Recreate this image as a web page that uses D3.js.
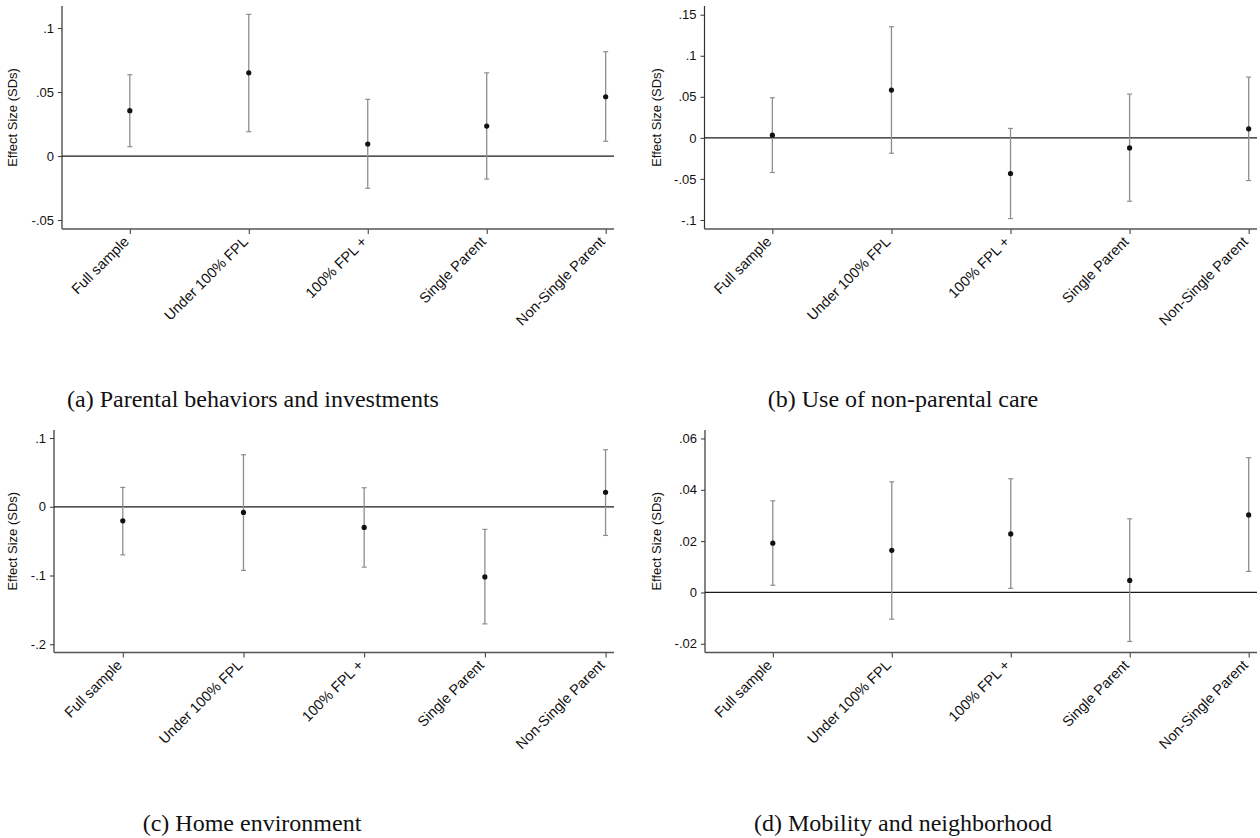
<!DOCTYPE html>
<html>
<head>
<meta charset="utf-8">
<script src="https://cdn.jsdelivr.net/npm/d3@7"></script>
<style>
  html, body { margin: 0; padding: 0; background: #fff; }
  svg { display: block; }
</style>
</head>
<body>
<svg id="chart" width="1260" height="838"></svg>
<script>
// ---------------- DATA ----------------
const categories = ["Full sample", "Under 100% FPL", "100% FPL +", "Single Parent", "Non-Single Parent"];

const panelA_est = [0.0354, 0.0650, 0.0094, 0.0234, 0.0463];
const panelA_lo  = [0.0073, 0.0190, -0.0252, -0.0180, 0.0115];
const panelA_hi  = [0.0635, 0.1107, 0.0443, 0.0650, 0.0815];

const panelB_est = [0.0033, 0.0582, -0.0434, -0.0122, 0.0110];
const panelB_lo  = [-0.0422, -0.0187, -0.0983, -0.0772, -0.0520];
const panelB_hi  = [0.0488, 0.1354, 0.0115, 0.0533, 0.0740];

const panelC_est = [-0.0204, -0.0082, -0.0300, -0.1020, 0.0210];
const panelC_lo  = [-0.0699, -0.0926, -0.0878, -0.1704, -0.0417];
const panelC_hi  = [0.0282, 0.0757, 0.0277, -0.0329, 0.0830];

const panelD_est = [0.0192, 0.0164, 0.0228, 0.0047, 0.0302];
const panelD_lo  = [0.0028, -0.0104, 0.0016, -0.0191, 0.0082];
const panelD_hi  = [0.0357, 0.0431, 0.0443, 0.0287, 0.0525];

const ticksA = [-0.05, 0, 0.05, 0.1];
const tickLabelsA = ["-.05", "0", ".05", ".1"];
const ticksB = [-0.1, -0.05, 0, 0.05, 0.1, 0.15];
const tickLabelsB = ["-.1", "-.05", "0", ".05", ".1", ".15"];
const ticksC = [-0.2, -0.1, 0, 0.1];
const tickLabelsC = ["-.2", "-.1", "0", ".1"];
const ticksD = [-0.02, 0, 0.02, 0.04, 0.06];
const tickLabelsD = ["-.02", "0", ".02", ".04", ".06"];

const captions = ["(a) Parental behaviors and investments", "(b) Use of non-parental care",
                  "(c) Home environment", "(d) Mobility and neighborhood"];
const yTitle = "Effect Size (SDs)";

// ---------------- LAYOUT ----------------
const panels = [
  { est: panelA_est, lo: panelA_lo, hi: panelA_hi, ticks: ticksA, labels: tickLabelsA,
    yDomain: [-0.057, 0.1172], left: 62, right: 614, top: 6, bottom: 229,
    titleX: 17, capX: 253, capY: 407, caption: captions[0] },
  { est: panelB_est, lo: panelB_lo, hi: panelB_hi, ticks: ticksB, labels: tickLabelsB,
    yDomain: [-0.111, 0.1606], left: 704.5, right: 1257, top: 6, bottom: 229,
    titleX: 660.5, capX: 903, capY: 407, caption: captions[1] },
  { est: panelC_est, lo: panelC_lo, hi: panelC_hi, ticks: ticksC, labels: tickLabelsC,
    yDomain: [-0.212, 0.1117], left: 54, right: 614, top: 430, bottom: 652.5,
    titleX: 17, capX: 252, capY: 831, caption: captions[2] },
  { est: panelD_est, lo: panelD_lo, hi: panelD_hi, ticks: ticksD, labels: tickLabelsD,
    yDomain: [-0.0234, 0.0633], left: 705, right: 1257, top: 430, bottom: 652.5,
    titleX: 660.5, capX: 903, capY: 831, caption: captions[3] }
];

const svg = d3.select("#chart");
const sans = "'Liberation Sans', Arial, sans-serif";
const serif = "'Liberation Serif', 'Times New Roman', serif";

panels.forEach(p => {
  const g = svg.append("g");
  const x = d3.scaleLinear().domain([0.43, 5.07]).range([p.left, p.right]);
  const y = d3.scaleLinear().domain(p.yDomain).range([p.bottom, p.top]);
  const tickFmt = d => p.labels[p.ticks.indexOf(d)];

  // y axis
  const yAxis = d3.axisLeft(y).tickValues(p.ticks).tickFormat(tickFmt).tickSize(4).tickPadding(4);
  const ya = g.append("g").attr("transform", `translate(${p.left},0)`).call(yAxis);
  ya.select(".domain").remove();
  ya.selectAll(".tick line").attr("stroke", "#333").attr("stroke-width", 1);
  ya.selectAll(".tick text").attr("font-family", sans).attr("font-size", 13).attr("fill", "#111");
  g.append("line").attr("x1", p.left).attr("x2", p.left).attr("y1", p.top).attr("y2", p.bottom)
    .attr("stroke", "#333").attr("stroke-width", 1.2);

  // x axis
  const xAxis = d3.axisBottom(x).tickValues([1, 2, 3, 4, 5]).tickFormat(d => categories[d - 1])
    .tickSize(5).tickPadding(0);
  const xa = g.append("g").attr("transform", `translate(0,${p.bottom})`).call(xAxis);
  xa.select(".domain").remove();
  xa.selectAll(".tick line").attr("stroke", "#333").attr("stroke-width", 1);
  xa.selectAll(".tick text")
    .attr("font-family", sans).attr("font-size", 14.5).attr("fill", "#111")
    .attr("text-anchor", "end")
    .attr("transform", "translate(-4,10) rotate(-45)")
    .attr("y", 0).attr("dy", "0.35em");
  g.append("line").attr("x1", p.left).attr("x2", p.right).attr("y1", p.bottom).attr("y2", p.bottom)
    .attr("stroke", "#555").attr("stroke-width", 1.6);

  // zero line
  g.append("line").attr("x1", p.left).attr("x2", p.right).attr("y1", y(0)).attr("y2", y(0))
    .attr("stroke", "#1a1a1a").attr("stroke-width", 1.3);

  // error bars
  const idx = d3.range(categories.length);
  g.selectAll(".ci").data(idx).enter().append("line")
    .attr("x1", i => x(i + 1)).attr("x2", i => x(i + 1))
    .attr("y1", i => y(p.lo[i])).attr("y2", i => y(p.hi[i]))
    .attr("stroke", "#8e8e8e").attr("stroke-width", 1.3);
  ["lo", "hi"].forEach(k => {
    g.selectAll(".cap" + k).data(idx).enter().append("line")
      .attr("x1", i => x(i + 1) - 2.5).attr("x2", i => x(i + 1) + 2.5)
      .attr("y1", i => y(p[k][i])).attr("y2", i => y(p[k][i]))
      .attr("stroke", "#8e8e8e").attr("stroke-width", 1.2);
  });
  // points
  g.selectAll(".pt").data(idx).enter().append("circle")
    .attr("cx", i => x(i + 1)).attr("cy", i => y(p.est[i])).attr("r", 2.6)
    .attr("fill", "#111");

  // y title
  g.append("text")
    .attr("transform", `translate(${p.titleX},${(p.top + p.bottom) / 2}) rotate(-90)`)
    .attr("text-anchor", "middle")
    .attr("font-family", sans).attr("font-size", 13).attr("fill", "#111")
    .text(yTitle);

  // caption
  svg.append("text")
    .attr("x", p.capX).attr("y", p.capY)
    .attr("text-anchor", "middle")
    .attr("font-family", serif).attr("font-size", 24).attr("fill", "#111")
    .text(p.caption);
});
</script>
</body>
</html>
